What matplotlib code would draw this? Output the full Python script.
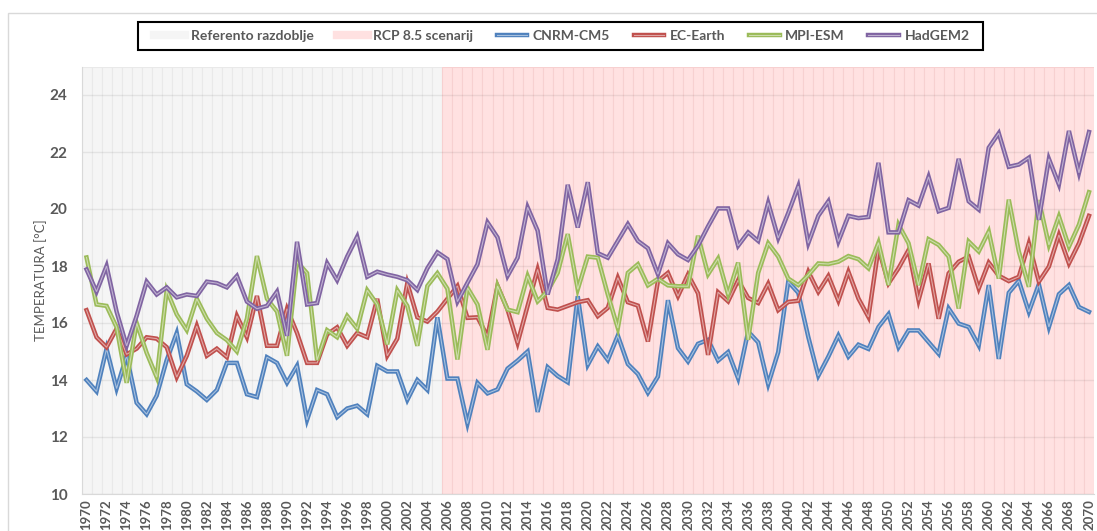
import numpy as np
import matplotlib
matplotlib.use("Agg")
import matplotlib.pyplot as plt
import matplotlib.patheffects as pe
from matplotlib.lines import Line2D
from matplotlib.patches import Rectangle

# years 1970..2070
years = list(range(1970, 2071))
ref_end = 2005   # referentno razdoblje 1970-2005, RCP 2006-2070

cnrm = [14.0, 13.6, 15.1, 13.7, 14.85, 13.2, 12.8, 13.45, 14.7, 15.65,
        13.85, 13.6, 13.3, 13.65, 14.6, 14.6, 13.5, 13.4, 14.8, 14.6,
        13.9, 14.5, 12.6, 13.65, 13.5, 12.7, 13.0, 13.1, 12.8, 14.5,
        14.3, 14.3, 13.3, 14.0, 13.65, 16.2, 14.05, 14.05, 12.47, 13.9,
        13.53, 13.67, 14.4, 14.68, 15.0, 12.88, 14.45, 14.14, 13.92, 16.94,
        14.53, 15.18, 14.7, 15.56, 14.56, 14.21, 13.55, 14.12, 16.8, 15.12,
        14.65, 15.27, 15.41, 14.68, 14.98, 14.06, 15.7, 15.32, 13.85, 14.98,
        17.45, 17.06, 15.51, 14.15, 14.82, 15.56, 14.82, 15.24, 15.09, 15.86,
        16.31, 15.15, 15.74, 15.74, 15.33, 14.92, 16.51, 15.98, 15.86, 15.21,
        17.33, 14.74, 17.06, 17.48, 16.39, 17.36, 15.86, 17.01, 17.33, 16.56,
        16.39]

ec_earth = [16.45, 15.5, 15.15, 15.8, 14.9, 15.1, 15.5, 15.45, 15.15, 14.1,
            14.85, 15.9, 14.85, 15.1, 14.8, 16.25, 15.5, 16.95, 15.2, 15.2,
            16.5, 15.65, 14.6, 14.6, 15.6, 15.85, 15.2, 15.65, 15.5, 16.85,
            14.85, 15.45, 17.4, 16.2, 16.05, 16.4, 16.85, 17.3, 16.18, 16.2,
            15.53, 17.3, 16.47, 15.3, 16.6, 17.88, 16.53, 16.47, 16.6, 16.73,
            16.8, 16.24, 16.53, 17.59, 16.73, 16.61, 15.35, 17.47, 17.76, 16.94,
            17.7, 17.04, 14.88, 17.08, 16.76, 17.5, 16.88, 16.7, 17.38, 16.45,
            16.74, 16.78, 17.8, 17.09, 17.65, 16.78, 17.8, 16.86, 16.21, 18.62,
            17.39, 17.92, 18.56, 16.8, 18.09, 16.15, 17.74, 18.15, 18.33, 17.21,
            18.12, 17.66, 17.47, 17.62, 18.8, 17.45, 17.98, 19.09, 18.09, 18.8,
            19.76]

mpi_esm = [18.3, 16.65, 16.6, 15.85, 13.9, 16.0, 14.95, 14.1, 17.15, 16.3,
           15.75, 16.85, 16.15, 15.65, 15.4, 15.0, 16.15, 18.35, 16.85, 16.4,
           14.85, 18.15, 17.75, 14.7, 15.75, 15.5, 16.25, 15.8, 17.15, 16.65,
           15.25, 17.15, 16.6, 15.2, 17.3, 17.75, 17.2, 14.72, 17.24, 16.65,
           15.06, 17.3, 16.47, 16.38, 17.65, 16.76, 17.12, 17.76, 19.12, 17.18,
           18.33, 18.29, 17.0, 15.82, 17.76, 18.06, 17.32, 17.55, 17.32, 17.29,
           17.29, 19.06, 17.71, 18.26, 17.0, 18.12, 15.41, 17.76, 18.8, 18.33,
           17.56, 17.33, 17.68, 18.09, 18.07, 18.15, 18.35, 18.24, 17.92, 18.82,
           17.33, 19.45, 18.8, 17.33, 18.94, 18.74, 18.33, 16.51, 18.86, 18.51,
           19.21, 17.56, 20.33, 18.51, 17.27, 20.31, 18.74, 19.74, 18.68, 19.45,
           20.59]

hadgem2 = [17.88, 17.1, 18.0, 16.4, 15.2, 16.25, 17.45, 17.0, 17.25, 16.9,
           17.0, 16.95, 17.45, 17.4, 17.25, 17.65, 16.75, 16.5, 16.6, 17.1,
           15.55, 18.85, 16.65, 16.7, 18.1, 17.5, 18.33, 19.03, 17.62, 17.8,
           17.7, 17.62, 17.5, 17.16, 17.92, 18.48, 18.24, 16.75, 17.41, 18.06,
           19.53, 19.0, 17.65, 18.29, 20.06, 19.24, 17.0, 18.24, 20.85, 19.35,
           20.94, 18.45, 18.29, 18.88, 19.47, 18.88, 18.62, 17.71, 18.8, 18.41,
           18.21, 18.71, 19.39, 20.02, 20.02, 18.71, 19.18, 18.88, 20.22, 18.98,
           19.86, 20.8, 18.8, 19.76, 20.27, 18.86, 19.76, 19.68, 19.72, 21.62,
           19.18, 19.18, 20.31, 20.12, 21.13, 19.92, 20.04, 21.76, 20.27, 19.98,
           22.15, 22.66, 21.48, 21.56, 21.8, 19.62, 21.76, 20.86, 22.74, 21.27,
           22.7]

series = [("CNRM-CM5", cnrm, "#4F81BD"),
          ("EC-Earth", ec_earth, "#C0504D"),
          ("MPI-ESM", mpi_esm, "#9BBB59"),
          ("HadGEM2", hadgem2, "#8064A2")]

grey_txt = "#595959"
plt.rcParams['font.family'] = ['Lato', 'DejaVu Sans']

fig = plt.figure(figsize=(10.97, 5.31), dpi=100)
ax = fig.add_axes([81.5/1097, 1 - 494/531, (1094 - 81.5)/1097, (494 - 66.5)/531])

x = np.arange(len(years))
top = 25
ref_mask = np.array(years) <= ref_end
ax.bar(x[ref_mask], top - 10, bottom=10, width=1.0, color="#F5F5F5",
       edgecolor="#E9E9E9", linewidth=0.8, zorder=1)
ax.bar(x[~ref_mask], top - 10, bottom=10, width=1.0, color="#FFE1E1",
       edgecolor="#F7D0D0", linewidth=0.8, zorder=1)

for yy in range(10, 25, 2):
    ax.axhline(yy, color="black", alpha=0.07, lw=1, zorder=2)


def dbl(color):
    return [pe.Stroke(linewidth=3.2, foreground=color),
            pe.Stroke(linewidth=0.8, foreground="white", alpha=0.5)]


for name, vals, col in series:
    ax.plot(x, vals, color=col, lw=3.2, zorder=4,
            path_effects=dbl(col), solid_joinstyle="miter")

ax.set_xlim(-0.5, len(years) - 0.5)
ax.set_ylim(10, 25)
ax.set_yticks(range(10, 25, 2))
ax.set_xticks(x[::2])
ax.set_xticklabels([str(y) for y in years[::2]], rotation=90)
ax.tick_params(axis="both", length=0, colors=grey_txt)
for lab in ax.get_yticklabels():
    lab.set_fontsize(11)
    lab.set_fontweight("bold")
for lab in ax.get_xticklabels():
    lab.set_fontsize(9.5)
    lab.set_fontweight("bold")
ax.tick_params(axis="x", pad=4)
ax.tick_params(axis="y", pad=10)
ax.set_ylabel("TEMPERATURA [°C]", color=grey_txt, fontsize=9.5, labelpad=2)
for s in ["top", "right"]:
    ax.spines[s].set_visible(False)
for s in ["left", "bottom"]:
    ax.spines[s].set_color("#D9D9D9")

# legend
handles = [Line2D([], [], color="#F5F5F5", lw=6),
           Line2D([], [], color="#FFE1E1", lw=6)]
labels = ["Referento razdoblje", "RCP 8.5 scenarij"]
for name, vals, col in series:
    handles.append(Line2D([], [], color=col, lw=3.2, path_effects=dbl(col)))
    labels.append(name)
leg = fig.legend(handles, labels, loc="center", ncol=6,
                 bbox_to_anchor=(562/1097, 1 - 36/531), frameon=False,
                 handlelength=2.2, columnspacing=1.7, handletextpad=0.4,
                 prop={"weight": "bold", "size": 10})
for t in leg.get_texts():
    t.set_color(grey_txt)
fig.patches.append(Rectangle((138/1097, 1 - 50/531), 845/1097, 28/531,
                             transform=fig.transFigure, fill=False,
                             edgecolor="black", lw=1.5, zorder=5))

# outer chart border
fig.patches.append(Rectangle((8/1097, -0.1), 1.2, 1 - 13/531 + 0.1,
                             transform=fig.transFigure, fill=False,
                             edgecolor="#D9D9D9", lw=1))

fig.savefig("out.png", dpi=100, facecolor="white")
